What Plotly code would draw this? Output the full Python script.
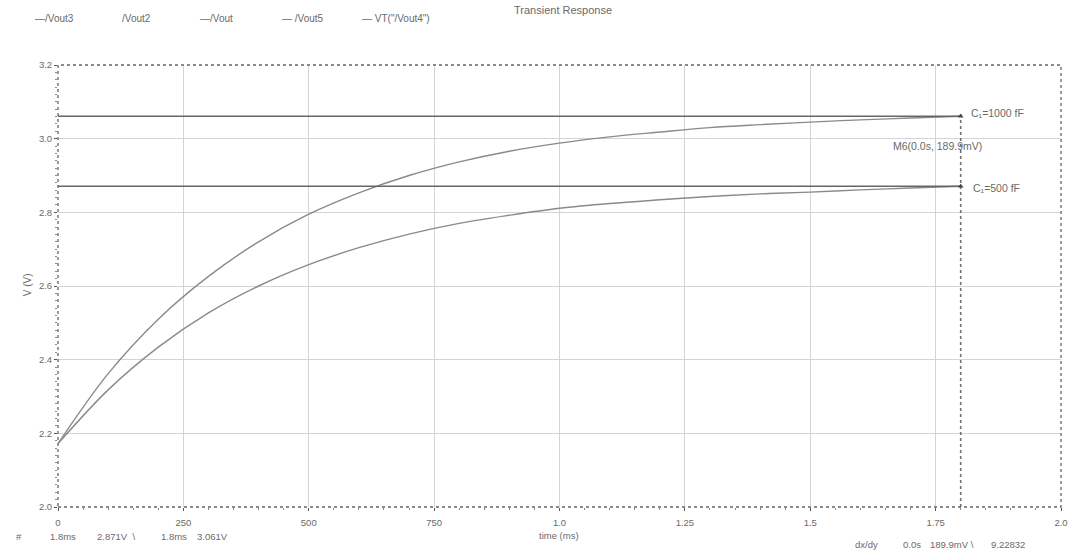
import plotly.graph_objects as go

# ---- data ----
time_ms = [0.0, 0.1, 0.2, 0.3, 0.4, 0.5, 0.6, 0.7, 0.8, 0.9, 1.0,
           1.1, 1.2, 1.3, 1.4, 1.5, 1.6, 1.7, 1.8]
v_c1000 = [2.172, 2.362, 2.510, 2.626, 2.720, 2.795, 2.853, 2.900, 2.937, 2.966,
           2.988, 3.005, 3.018, 3.030, 3.038, 3.045, 3.051, 3.056, 3.061]
v_c500 = [2.172, 2.318, 2.434, 2.527, 2.600, 2.658, 2.704, 2.741, 2.770, 2.792,
          2.811, 2.824, 2.834, 2.843, 2.850, 2.855, 2.861, 2.866, 2.871]

x_tickvals = [0, 0.25, 0.5, 0.75, 1.0, 1.25, 1.5, 1.75, 2.0]
x_ticktext = ["0", "250", "500", "750", "1.0", "1.25", "1.5", "1.75", "2.0"]
y_tickvals = [2.0, 2.2, 2.4, 2.6, 2.8, 3.0, 3.2]
y_ticktext = ["2.0", "2.2", "2.4", "2.6", "2.8", "3.0", "3.2"]

legend_names = ["\u2014/Vout3", "/Vout2", "\u2014/Vout", "\u2014 /Vout5", '\u2014 VT("/Vout4")']
legend_x = [33, 120, 199, 281, 362]

marker_labels = ["C\u2081=1000 fF", "C\u2081=500 fF"]
delta_label = "M6(0.0s, 189.9mV)"
readout_left = ["#", "1.8ms", "2.871V  \\", "1.8ms", "3.061V"]
readout_left_x = [14, 48, 95, 160, 196]
readout_right = ["dx/dy", "0.0s", "189.9mV \\", "9.22832"]
readout_right_x = [857, 905, 932, 994]

FONT = "Liberation Sans, Arial, sans-serif"
TXT = "#6a6a6a"
CURVE = "#8a8a8a"
DARK = "#555555"

W, H = 1080, 552
ML, MR, MT, MB = 58, W - 1066, 65, H - 507
pw, ph = W - ML - MR, H - MT - MB


def px(x, y):
    """window pixel -> plot-area paper coords"""
    return (x - ML) / pw, 1 - (y - MT) / ph


fig = go.Figure()

fig.add_trace(go.Scatter(x=time_ms, y=v_c1000, mode="lines", line=dict(color=CURVE, width=1.4, shape="spline"),
                         showlegend=False, hoverinfo="skip"))
fig.add_trace(go.Scatter(x=time_ms, y=v_c500, mode="lines", line=dict(color=CURVE, width=1.4, shape="spline"),
                         showlegend=False, hoverinfo="skip"))

t_end = time_ms[-1]
for v in (v_c1000[-1], v_c500[-1]):
    fig.add_trace(go.Scatter(x=[time_ms[0], t_end], y=[v, v], mode="lines",
                             line=dict(color="#666666", width=1.6), showlegend=False, hoverinfo="skip"))
fig.add_trace(go.Scatter(x=[t_end, t_end], y=[y_tickvals[0], v_c1000[-1] + 0.012], mode="lines",
                         line=dict(color="#707070", width=1.6, dash="dot"), showlegend=False, hoverinfo="skip"))
fig.add_trace(go.Scatter(x=[t_end, t_end], y=[v_c1000[-1], v_c500[-1]], mode="markers",
                         marker=dict(symbol="triangle-up", size=5, color="#444444"),
                         showlegend=False, hoverinfo="skip"))

annotations = []


def add_text(text, x, y, xanchor="center", yanchor="middle", angle=0, size=9):
    ax, ay = px(x, y)
    annotations.append(dict(text=text, x=ax, y=ay, xref="paper", yref="paper", showarrow=False,
                            xanchor=xanchor, yanchor=yanchor, textangle=angle,
                            font=dict(family=FONT, size=size, color=TXT)))


add_text("Transient Response", 566, 10, size=11)
for name, lx in zip(legend_names, legend_x):
    add_text(name, lx, 19, xanchor="left", size=10)
add_text(marker_labels[0], 974, 113, xanchor="left", size=10.5)
add_text(marker_labels[1], 976, 188, xanchor="left", size=10.5)
add_text(delta_label, 942, 146, size=10.5)
for t, lx in zip(readout_left, readout_left_x):
    add_text(t, lx, 536, xanchor="left", size=9.5)
for t, lx in zip(readout_right, readout_right_x):
    add_text(t, lx, 544, xanchor="left", size=9.5)
add_text("time (ms)", 561, 535, size=9.5)
add_text("V (V)", 27, 285, angle=-90, size=10)

fig.update_layout(
    width=W, height=H,
    margin=dict(l=ML, r=MR, t=MT, b=MB),
    paper_bgcolor="white", plot_bgcolor="white",
    font=dict(family=FONT, size=9, color=TXT),
    annotations=annotations,
    xaxis=dict(range=[0, 2.0], tickvals=x_tickvals, ticktext=x_ticktext, showgrid=True,
               gridcolor="#d4d4d4", gridwidth=1, zeroline=False, showline=False,
               ticks="outside", ticklen=3, tickcolor=DARK, tickfont=dict(size=9.5, color=TXT),
               ticklabeloverflow="allow", ticklabelstandoff=4,
               minor=dict(ticks="outside", ticklen=2, tickcolor="#888888", dtick=0.05, showgrid=False)),
    yaxis=dict(range=[2.0, 3.2], tickvals=y_tickvals, ticktext=y_ticktext, showgrid=True,
               gridcolor="#d4d4d4", gridwidth=1, zeroline=False, showline=False,
               ticks="outside", ticklen=3, tickcolor=DARK, tickfont=dict(size=9.5, color=TXT),
               minor=dict(ticks="outside", ticklen=2, tickcolor="#888888", dtick=0.02, showgrid=False)),
    shapes=[dict(type="rect", xref="paper", yref="paper", x0=0, x1=1, y0=0, y1=1,
                 line=dict(color="#666666", width=1.3, dash="dot"))],
)

fig.write_html("out.html", config={"displayModeBar": False},
               post_script="document.body.style.margin='0';document.body.style.overflow='hidden';")
